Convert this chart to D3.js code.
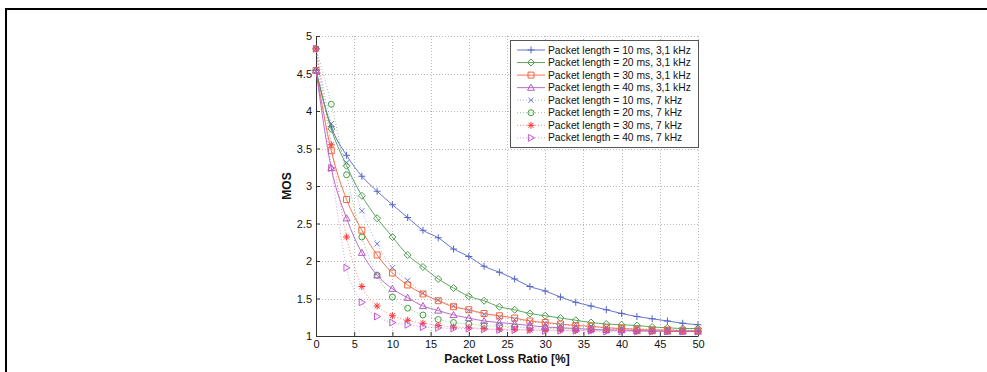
<!DOCTYPE html>
<html><head><meta charset="utf-8">
<script src="https://cdn.jsdelivr.net/npm/d3@7/dist/d3.min.js"></script>
<style>
html,body{margin:0;padding:0;background:#fff;}
svg{display:block;font-family:"Liberation Sans",Arial,sans-serif;}
</style></head>
<body>
<svg id="chart" width="987" height="372"></svg>
<script>
// ---------- data ----------
const lossRatio = [0,2,4,6,8,10,12,14,16,18,20,22,24,26,28,30,32,34,36,38,40,42,44,46,48,50];
const mos10ms31 = [4.54,3.79,3.41,3.13,2.93,2.75,2.58,2.41,2.31,2.16,2.06,1.93,1.85,1.76,1.66,1.60,1.52,1.45,1.40,1.35,1.30,1.26,1.23,1.20,1.17,1.15];
const mos20ms31 = [4.54,3.76,3.27,2.87,2.57,2.32,2.08,1.92,1.76,1.64,1.53,1.47,1.39,1.35,1.30,1.27,1.24,1.21,1.18,1.16,1.15,1.14,1.12,1.11,1.10,1.10];
const mos30ms31 = [4.54,3.47,2.82,2.41,2.08,1.84,1.68,1.56,1.47,1.39,1.35,1.30,1.27,1.24,1.20,1.18,1.16,1.14,1.13,1.11,1.10,1.09,1.08,1.08,1.07,1.07];
const mos40ms31 = [4.54,3.24,2.57,2.11,1.81,1.63,1.51,1.40,1.34,1.28,1.24,1.20,1.18,1.16,1.14,1.12,1.11,1.10,1.09,1.08,1.08,1.07,1.07,1.06,1.06,1.06];
const mos10ms7  = [4.83,3.83,3.31,2.67,2.23,1.91,1.74,1.57,1.48,1.40,1.34,1.29,1.25,1.22,1.19,1.17,1.15,1.14,1.12,1.11,1.10,1.10,1.09,1.09,1.08,1.08];
const mos20ms7  = [4.83,4.09,3.15,2.32,1.81,1.52,1.37,1.28,1.22,1.18,1.16,1.14,1.13,1.12,1.11,1.10,1.10,1.09,1.09,1.08,1.08,1.08,1.07,1.07,1.07,1.07];
const mos30ms7  = [4.83,3.55,2.32,1.66,1.40,1.27,1.21,1.17,1.14,1.12,1.11,1.10,1.09,1.09,1.08,1.08,1.08,1.07,1.07,1.07,1.07,1.06,1.06,1.06,1.06,1.06];
const mos40ms7  = [4.83,3.24,1.91,1.45,1.26,1.18,1.15,1.12,1.11,1.10,1.10,1.09,1.08,1.08,1.08,1.07,1.07,1.07,1.07,1.06,1.06,1.06,1.06,1.06,1.06,1.06];
const seriesNames = [
  "Packet length = 10 ms, 3,1 kHz","Packet length = 20 ms, 3,1 kHz",
  "Packet length = 30 ms, 3,1 kHz","Packet length = 40 ms, 3,1 kHz",
  "Packet length = 10 ms, 7 kHz","Packet length = 20 ms, 7 kHz",
  "Packet length = 30 ms, 7 kHz","Packet length = 40 ms, 7 kHz"];
const xTicks = [0,5,10,15,20,25,30,35,40,45,50];
const yTicks = [1,1.5,2,2.5,3,3.5,4,4.5,5];
const xLabel = "Packet Loss Ratio [%]";
const yLabel = "MOS";

// ---------- styles ----------
const seriesValues = [mos10ms31,mos20ms31,mos30ms31,mos40ms31,mos10ms7,mos20ms7,mos30ms7,mos40ms7];
const colors  = ["#5565c8","#4f9b4f","#f5643c","#b35cc6","#6a78d6","#3f9f3f","#ff3535","#c25ad2"];
const markers = ["plus","diamond","square","triangle","x","circle","star","tright"];
const dotted  = [false,false,false,false,true,true,true,true];

const svg = d3.select("#chart");
const L=316, R=698, T=36, B=336;
const x = d3.scaleLinear().domain([0,50]).range([L,R]);
const y = d3.scaleLinear().domain([1,5]).range([B,T]);

// frame
svg.append("path").attr("d",`M6,372V9H987`).attr("fill","none").attr("stroke","#000").attr("stroke-width",2);

// grid
const grid = svg.append("g").attr("stroke","#b8b8b8").attr("stroke-width",1).attr("stroke-dasharray","1,2");
xTicks.filter(d=>d>0).forEach(d=>grid.append("line").attr("x1",Math.round(x(d))+0.5).attr("x2",Math.round(x(d))+0.5).attr("y1",T).attr("y2",B));
yTicks.filter(d=>d>1).forEach(d=>grid.append("line").attr("y1",Math.round(y(d))+0.5).attr("y2",Math.round(y(d))+0.5).attr("x1",L).attr("x2",R));

// axes
const ax = svg.append("g").attr("transform",`translate(0,${B})`)
  .call(d3.axisBottom(x).tickValues(xTicks).tickSizeInner(-4).tickSizeOuter(0).tickPadding(4).tickFormat(d3.format("d")));
const ay = svg.append("g").attr("transform",`translate(${L},0)`)
  .call(d3.axisLeft(y).tickValues(yTicks).tickSizeInner(-4).tickSizeOuter(0).tickPadding(4).tickFormat(d=>String(d)));
[ax,ay].forEach(g=>{
  g.selectAll(".domain").attr("stroke","#333");
  g.selectAll(".tick line").attr("stroke","#333");
  g.selectAll("text").attr("fill","#111").style("font-size","11px").style("font-family",'"Liberation Sans",Arial,sans-serif');
});

svg.append("text").attr("x",(L+R)/2).attr("y",363).attr("text-anchor","middle")
  .style("font-size","12px").style("font-weight","bold").attr("fill","#111").text(xLabel);
svg.append("text").attr("transform",`translate(291,186) rotate(-90)`).attr("text-anchor","middle")
  .style("font-size","12px").style("font-weight","bold").attr("fill","#111").text(yLabel);

// marker shape generator
function markerPath(type,s){
  const h=s/2;
  switch(type){
    case "plus": return `M${-h},0H${h}M0,${-h}V${h}`;
    case "x": return `M${-h*0.75},${-h*0.75}L${h*0.75},${h*0.75}M${-h*0.75},${h*0.75}L${h*0.75},${-h*0.75}`;
    case "star": return `M${-h},0H${h}M0,${-h}V${h}M${-h*0.7},${-h*0.7}L${h*0.7},${h*0.7}M${-h*0.7},${h*0.7}L${h*0.7},${-h*0.7}`;
    case "diamond": return `M0,${-h}L${h},0L0,${h}L${-h},0Z`;
    case "square": return `M${-h*0.85},${-h*0.85}H${h*0.85}V${h*0.85}H${-h*0.85}Z`;
    case "triangle": return `M0,${-h}L${h},${h*0.75}L${-h},${h*0.75}Z`;
    case "tright": return `M${-h*0.75},${-h}L${h},0L${-h*0.75},${h}Z`;
    case "circle": return d3.arc()({innerRadius:0,outerRadius:h*0.85,startAngle:0,endAngle:2*Math.PI});
  }
}

const line = d3.line().x(d=>x(d[0])).y(d=>y(d[1])).curve(d3.curveMonotoneX);
const plot = svg.append("g");
// draw 7 kHz first, then 3.1 kHz
[4,5,6,7,0,1,2,3].forEach(i=>{
  const pts = lossRatio.map((v,k)=>[v,seriesValues[i][k]]);
  const g = plot.append("g");
  g.append("path").attr("d",line(pts)).attr("fill","none").attr("stroke",colors[i])
    .attr("stroke-width",1).attr("stroke-dasharray",dotted[i]?"1,2":null).attr("opacity",dotted[i]?0.6:0.9);
  g.selectAll("path.m").data(pts).enter().append("path").attr("class","m")
    .attr("transform",d=>`translate(${x(d[0])},${y(d[1])})`)
    .attr("d",markerPath(markers[i],7)).attr("fill","none").attr("stroke",colors[i]).attr("stroke-width",1);
});

// legend
const lg = svg.append("g");
lg.append("rect").attr("x",510.5).attr("y",40.5).attr("width",188).attr("height",107)
  .attr("fill","#fff").attr("stroke","#555").attr("stroke-width",1);
seriesNames.forEach((nm,i)=>{
  const yy = 50 + i*12.55;
  lg.append("line").attr("x1",517).attr("x2",545).attr("y1",yy).attr("y2",yy)
    .attr("stroke",colors[i]).attr("stroke-width",1).attr("stroke-dasharray",dotted[i]?"1,2":null).attr("opacity",dotted[i]?0.6:0.9);
  lg.append("path").attr("transform",`translate(531,${yy})`).attr("d",markerPath(markers[i],7))
    .attr("fill","none").attr("stroke",colors[i]);
  lg.append("text").attr("x",548).attr("y",yy+3.6).style("font-size","10.3px").attr("fill","#111").text(nm);
});
</script>
</body></html>
